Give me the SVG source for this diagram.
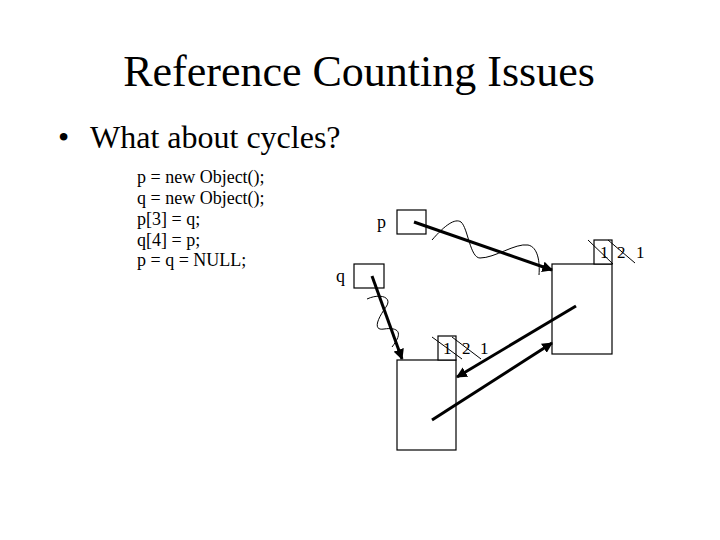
<svg xmlns="http://www.w3.org/2000/svg" width="720" height="540" viewBox="0 0 720 540">
<style>
text{font-family:"Liberation Serif","Times New Roman",serif;fill:#000}
.box{fill:#fff;stroke:#000;stroke-width:1.2}
.arr{stroke:#000;stroke-width:3;fill:none}
.thin{stroke:#000;stroke-width:1;fill:none}
.code{font-size:18px}
.cnt{font-size:17px}
</style>
<defs>
<marker id="ah" viewBox="0 0 10 10" refX="9" refY="5" markerWidth="3.6" markerHeight="3.6" orient="auto" markerUnits="strokeWidth">
<path d="M0,0 L10,5 L0,10 z" fill="#000"/>
</marker>
</defs>
<rect width="720" height="540" fill="#fff"/>
<text x="359" y="86" font-size="44" text-anchor="middle">Reference Counting Issues</text>
<text x="58" y="148" font-size="32">•</text>
<text x="90" y="148" font-size="32">What about cycles?</text>
<g id="code" class="code">
<text x="137" y="183">p = new Object();</text>
<text x="137" y="204">q = new Object();</text>
<text x="137" y="225">p[3] = q;</text>
<text x="137" y="246">q[4] = p;</text>
<text x="137" y="266">p = q = NULL;</text>
</g>
<g id="p">
<rect class="box" x="397" y="210" width="29" height="24"/>
<text x="377" y="228" class="code">p</text>
</g>
<g id="q">
<rect class="box" x="354" y="264" width="30" height="24"/>
<text x="336" y="282" class="code">q</text>
</g>
<g id="objP">
<rect class="box" x="552" y="264" width="60" height="90"/>
<rect class="box" x="594" y="240" width="18" height="24"/>
<text x="600" y="258" class="cnt">1</text>
<text x="617" y="258" class="cnt">2</text>
<text x="636" y="258" class="cnt">1</text>
<line class="thin" x1="588" y1="240" x2="613" y2="264"/>
<line class="thin" x1="608" y1="240" x2="635" y2="263"/>
</g>
<g id="objQ">
<rect class="box" x="397" y="360" width="59" height="90"/>
<rect class="box" x="438" y="336" width="18" height="24"/>
<text x="443" y="354" class="cnt">1</text>
<text x="462" y="354" class="cnt">2</text>
<text x="480" y="354" class="cnt">1</text>
<line class="thin" x1="432" y1="337" x2="462" y2="359"/>
<line class="thin" x1="452" y1="337" x2="481" y2="359"/>
</g>
<g id="connectors">
<path class="arr" d="M414,222 L552,270" marker-end="url(#ah)"/>
<path class="arr" d="M372,276 L402,359" marker-end="url(#ah)"/>
<path class="arr" d="M576,306 L457,377" marker-end="url(#ah)"/>
<path class="arr" d="M432,420 L552,343" marker-end="url(#ah)"/>
<path class="thin" d="M432,240 C445,225 455,218 461,222 C468,228 470,258 480,258 C495,258 515,243 528,245 C538,247 540,262 539,275"/>
<path class="thin" d="M367,299 C380,293 393,297 386,307 C378,318 372,331 384,329 C398,327 404,332 392,347"/>
</g>
</svg>
